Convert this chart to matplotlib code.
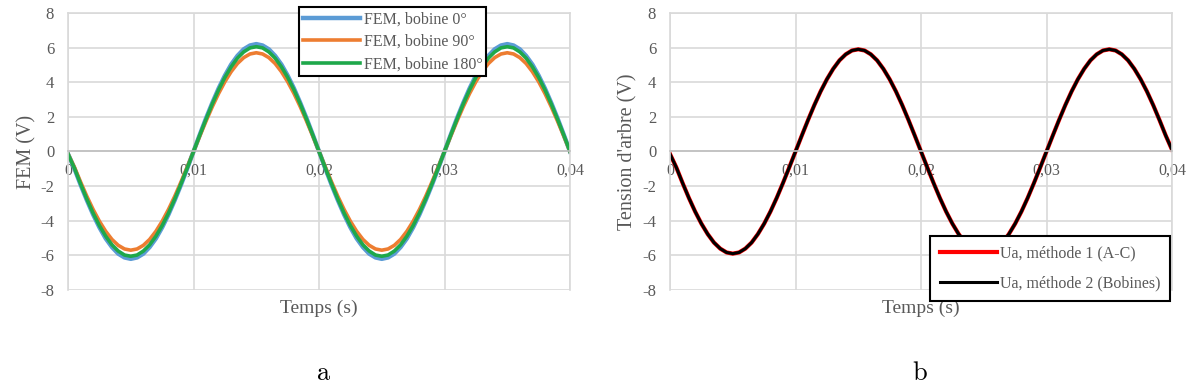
import matplotlib
matplotlib.use("Agg")
import matplotlib.pyplot as plt

plt.rcParams["axes.unicode_minus"] = False
plt.rcParams["mathtext.fontset"] = "cm"

# Time axis (s), one sample every 0.5 ms
temps = [i * 0.0005 for i in range(81)]

# FEM per coil (V)
fem_0 = [-0.15, -0.97, -1.92, -2.81, -3.64, -4.38, -5.02, -5.52, -5.90, -6.12, -6.20, -6.12, -5.90, -5.52, -5.02, -4.38, -3.64, -2.81, -1.92, -0.97, 0.0,
         0.97, 1.92, 2.81, 3.64, 4.38, 5.02, 5.52, 5.90, 6.12, 6.20, 6.12, 5.90, 5.52, 5.02, 4.38, 3.64, 2.81, 1.92, 0.97, 0.0,
         -0.97, -1.92, -2.81, -3.64, -4.38, -5.02, -5.52, -5.90, -6.12, -6.20, -6.12, -5.90, -5.52, -5.02, -4.38, -3.64, -2.81, -1.92, -0.97, 0.0,
         0.97, 1.92, 2.81, 3.64, 4.38, 5.02, 5.52, 5.90, 6.12, 6.20, 6.12, 5.90, 5.52, 5.02, 4.38, 3.64, 2.81, 1.92, 0.97, 0.0]
fem_90 = [-0.15, -0.89, -1.76, -2.59, -3.35, -4.03, -4.61, -5.08, -5.42, -5.63, -5.70, -5.63, -5.42, -5.08, -4.61, -4.03, -3.35, -2.59, -1.76, -0.89, 0.0,
          0.89, 1.76, 2.59, 3.35, 4.03, 4.61, 5.08, 5.42, 5.63, 5.70, 5.63, 5.42, 5.08, 4.61, 4.03, 3.35, 2.59, 1.76, 0.89, 0.0,
          -0.89, -1.76, -2.59, -3.35, -4.03, -4.61, -5.08, -5.42, -5.63, -5.70, -5.63, -5.42, -5.08, -4.61, -4.03, -3.35, -2.59, -1.76, -0.89, 0.0,
          0.89, 1.76, 2.59, 3.35, 4.03, 4.61, 5.08, 5.42, 5.63, 5.70, 5.63, 5.42, 5.08, 4.61, 4.03, 3.35, 2.59, 1.76, 0.89, 0.0]
fem_180 = [-0.15, -0.95, -1.87, -2.75, -3.56, -4.28, -4.89, -5.39, -5.75, -5.98, -6.05, -5.98, -5.75, -5.39, -4.89, -4.28, -3.56, -2.75, -1.87, -0.95, 0.0,
           0.95, 1.87, 2.75, 3.56, 4.28, 4.89, 5.39, 5.75, 5.98, 6.05, 5.98, 5.75, 5.39, 4.89, 4.28, 3.56, 2.75, 1.87, 0.95, 0.0,
           -0.95, -1.87, -2.75, -3.56, -4.28, -4.89, -5.39, -5.75, -5.98, -6.05, -5.98, -5.75, -5.39, -4.89, -4.28, -3.56, -2.75, -1.87, -0.95, 0.0,
           0.95, 1.87, 2.75, 3.56, 4.28, 4.89, 5.39, 5.75, 5.98, 6.05, 5.98, 5.75, 5.39, 4.89, 4.28, 3.56, 2.75, 1.87, 0.95, 0.0]

# Shaft voltage, two methods (V)
ua_m1 = [-0.15, -0.92, -1.82, -2.68, -3.47, -4.17, -4.77, -5.26, -5.61, -5.83, -5.90, -5.83, -5.61, -5.26, -4.77, -4.17, -3.47, -2.68, -1.82, -0.92, 0.0,
         0.92, 1.82, 2.68, 3.47, 4.17, 4.77, 5.26, 5.61, 5.83, 5.90, 5.83, 5.61, 5.26, 4.77, 4.17, 3.47, 2.68, 1.82, 0.92, 0.0,
         -0.92, -1.82, -2.68, -3.47, -4.17, -4.77, -5.26, -5.61, -5.83, -5.90, -5.83, -5.61, -5.26, -4.77, -4.17, -3.47, -2.68, -1.82, -0.92, 0.0,
         0.92, 1.82, 2.68, 3.47, 4.17, 4.77, 5.26, 5.61, 5.83, 5.90, 5.83, 5.61, 5.26, 4.77, 4.17, 3.47, 2.68, 1.82, 0.92, 0.1]
ua_m2 = [-0.15, -0.92, -1.82, -2.68, -3.47, -4.17, -4.77, -5.26, -5.61, -5.83, -5.90, -5.83, -5.61, -5.26, -4.77, -4.17, -3.47, -2.68, -1.82, -0.92, 0.0,
         0.92, 1.82, 2.68, 3.47, 4.17, 4.77, 5.26, 5.61, 5.83, 5.90, 5.83, 5.61, 5.26, 4.77, 4.17, 3.47, 2.68, 1.82, 0.92, 0.0,
         -0.92, -1.82, -2.68, -3.47, -4.17, -4.77, -5.26, -5.61, -5.83, -5.90, -5.83, -5.61, -5.26, -4.77, -4.17, -3.47, -2.68, -1.82, -0.92, 0.0,
         0.92, 1.82, 2.68, 3.47, 4.17, 4.77, 5.26, 5.61, 5.83, 5.90, 5.83, 5.61, 5.26, 4.77, 4.17, 3.47, 2.68, 1.82, 0.92, 0.1]

x_ticks = [0, 0.01, 0.02, 0.03, 0.04]
x_labels = ["0", "0,01", "0,02", "0,03", "0,04"]
y_ticks = [-8, -6, -4, -2, 0, 2, 4, 6, 8]

SERIF = "Liberation Serif"
GREY_TXT = "#595959"
GRID = "#d9d9d9"

fig = plt.figure(figsize=(11.98, 3.87), dpi=100)
ax_a = fig.add_axes([0.0568, 0.2506, 0.419, 0.716])
ax_b = fig.add_axes([0.5593, 0.2506, 0.419, 0.716])


def style_axes(ax, ylabel, ylab_x):
    ax.set_xlim(0, 0.04)
    ax.set_ylim(-8, 8)
    ax.set_xticks(x_ticks)
    ax.set_xticklabels(x_labels)
    ax.set_yticks(y_ticks)
    ax.grid(True, color=GRID, lw=1.2)
    ax.set_axisbelow(True)
    for sp in ax.spines.values():
        sp.set_color(GRID)
        sp.set_linewidth(1.2)
    # Excel-style: the x axis crosses at y=0
    ax.spines["bottom"].set_position(("data", 0))
    ax.spines["bottom"].set_color("#bfbfbf")
    ax.tick_params(axis="x", length=0, labelsize=11.5, labelcolor=GREY_TXT, pad=8)
    ax.tick_params(axis="y", length=0, labelsize=12, labelcolor=GREY_TXT, pad=10)
    for lab in ax.get_xticklabels() + ax.get_yticklabels():
        lab.set_fontfamily(SERIF)
    ax.set_xlabel("Temps (s)", fontsize=14, color=GREY_TXT, family=SERIF)
    ax.xaxis.set_label_coords(0.5, -0.035)
    ax.set_ylabel(ylabel, fontsize=14.5, color=GREY_TXT, family=SERIF)
    ax.yaxis.set_label_coords(ylab_x, 0.5)


def style_legend(leg):
    leg.get_frame().set_linewidth(1.5)
    for t in leg.get_texts():
        t.set_color(GREY_TXT)


# --- a ---
ax_a.plot(temps, fem_0, color="#5b9bd5", lw=3.2, label="FEM, bobine 0°")
ax_a.plot(temps, fem_90, color="#ed7d31", lw=2.6, label="FEM, bobine 90°")
ax_a.plot(temps, fem_180, color="#1ea84a", lw=2.6, label="FEM, bobine 180°")
style_axes(ax_a, "FEM (V)", -0.062)
leg = ax_a.legend(loc="upper left", bbox_to_anchor=(0.46, 1.02), fancybox=False,
                  edgecolor="black", framealpha=1, handlelength=3.6, handletextpad=0.2,
                  borderpad=0.25, labelspacing=0.4, borderaxespad=0,
                  prop={"family": SERIF, "size": 11.5})
style_legend(leg)

# --- b ---
ax_b.plot(temps, ua_m1, color="#ff0000", lw=3.0, label="Ua, méthode 1 (A-C)")
ax_b.plot(temps, ua_m2, color="black", lw=2.2, label="Ua, méthode 2 (Bobines)")
style_axes(ax_b, "Tension d'arbre (V)", -0.064)
leg = ax_b.legend(loc="lower right", bbox_to_anchor=(0.997, -0.04), fancybox=False,
                  edgecolor="black", framealpha=1, handlelength=3.6, handletextpad=0.2,
                  borderpad=0.6, labelspacing=0.9, borderaxespad=0,
                  prop={"family": SERIF, "size": 11.5})
style_legend(leg)

# panel letters
fig.text(0.27, 0.036, r"$\mathrm{a}$", fontsize=19, ha="center", va="center")
fig.text(0.768, 0.036, r"$\mathrm{b}$", fontsize=19, ha="center", va="center")

fig.savefig("out.png", dpi=100, facecolor="white")
